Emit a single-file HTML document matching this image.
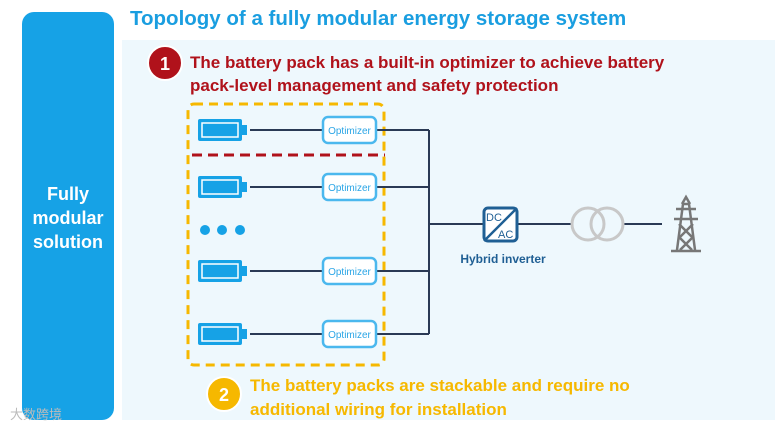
<!DOCTYPE html>
<html><head><meta charset="utf-8"><style>
body{margin:0;width:782px;height:430px;background:#fff;font-family:"Liberation Sans",sans-serif;position:relative;overflow:hidden}
.a{position:absolute}
</style></head><body>
<div class="a" style="left:22px;top:12px;width:92px;height:408px;background:#16a2e6;border-radius:12px"></div>
<div class="a" style="left:22px;top:182px;width:92px;text-align:center;color:#fff;font-weight:bold;font-size:18px;line-height:24px">Fully<br>modular<br>solution</div>
<div class="a" style="left:130px;top:7px;color:#1a9ee0;font-weight:bold;font-size:20.5px;white-space:nowrap">Topology of a fully modular energy storage system</div>
<div class="a" style="left:122px;top:40px;width:653px;height:380px;background:#eef8fd"></div>
<svg class="a" style="left:0;top:0" width="782" height="430">
<circle cx="165" cy="63" r="17" fill="#b0121b" stroke="#fff" stroke-width="2"/>
<text x="165" y="70" fill="#fff" font-size="18" font-weight="bold" text-anchor="middle" font-family="Liberation Sans">1</text>
<circle cx="224" cy="394" r="17" fill="#f6b800" stroke="#fff" stroke-width="2"/>
<text x="224" y="401" fill="#fff" font-size="18" font-weight="bold" text-anchor="middle" font-family="Liberation Sans">2</text>
<rect x="188" y="104" width="196" height="261" rx="6" fill="none" stroke="#f6b800" stroke-width="3" stroke-dasharray="9,6"/>
<line x1="192" y1="155" x2="385" y2="155" stroke="#b0121b" stroke-width="3" stroke-dasharray="10,6"/>
<g stroke="#2a3a55" stroke-width="2" fill="none">
<line x1="250" y1="130" x2="323" y2="130"/><line x1="250" y1="187" x2="323" y2="187"/>
<line x1="250" y1="271" x2="323" y2="271"/><line x1="250" y1="334" x2="323" y2="334"/>
<line x1="376" y1="130" x2="429" y2="130"/><line x1="376" y1="187" x2="429" y2="187"/>
<line x1="376" y1="271" x2="429" y2="271"/><line x1="376" y1="334" x2="429" y2="334"/>
<line x1="429" y1="130" x2="429" y2="334"/><line x1="429" y1="224" x2="483" y2="224"/>
<line x1="517" y1="224" x2="571" y2="224"/><line x1="624" y1="224" x2="662" y2="224"/>
</g>
<g id="b">
<rect x="198" y="119" width="44" height="22" rx="2" fill="#16a2e6"/>
<rect x="202" y="123" width="36" height="14" fill="#16a2e6" stroke="#fff" stroke-width="1.5"/>
<rect x="242" y="125" width="5" height="10" fill="#16a2e6"/>
<rect x="323" y="117" width="53" height="26" rx="5" fill="#fff" stroke="#4bb8ee" stroke-width="2.5"/>
<text x="349.5" y="134" fill="#2aa5e6" font-size="10" text-anchor="middle" font-family="Liberation Sans">Optimizer</text>
</g>
<use href="#b" y="57"/><use href="#b" y="141"/><use href="#b" y="204"/>
<circle cx="205" cy="230" r="5" fill="#16a2e6"/><circle cx="222" cy="230" r="5" fill="#16a2e6"/><circle cx="240" cy="230" r="5" fill="#16a2e6"/>
<rect x="484" y="208" width="33" height="33" rx="4" fill="#fff" stroke="#1f5f94" stroke-width="3"/>
<line x1="484" y1="241" x2="517" y2="208" stroke="#1f5f94" stroke-width="2.5"/>
<text x="486" y="221" fill="#1f5f94" font-size="11" font-family="Liberation Sans">DC</text>
<text x="498" y="238" fill="#1f5f94" font-size="11" font-family="Liberation Sans">AC</text>
<text x="503" y="263" fill="#1f5f94" font-size="12" font-weight="bold" text-anchor="middle" font-family="Liberation Sans">Hybrid inverter</text>
<circle cx="588" cy="224" r="16" fill="none" stroke="#c8c8c8" stroke-width="3"/>
<circle cx="607" cy="224" r="16" fill="none" stroke="#c8c8c8" stroke-width="3"/>
<g stroke="#777" stroke-width="2.5" fill="none">
<path d="M677 250 L683 204 L689 204 L695 250 M671 251 L701 251 M676 209 L696 209 M674 219 L698 219 M679 224 L693 238 M693 224 L679 238 M680 238 L692 250 M692 238 L680 250 M682 204 L686 197 L690 204"/>
</g>
</svg>
<div class="a" style="left:190px;top:51px;color:#b0121b;font-weight:bold;font-size:17px;line-height:23px;white-space:nowrap">The battery pack has a built-in optimizer to achieve battery<br>pack-level management and safety protection</div>
<div class="a" style="left:250px;top:374px;color:#f6b800;font-weight:bold;font-size:17px;line-height:24px;white-space:nowrap">The battery packs are stackable and require no<br>additional wiring for installation</div>
<div class="a" style="left:10px;top:404px;color:#bbb;font-size:13px">大数跨境</div>
</body></html>
